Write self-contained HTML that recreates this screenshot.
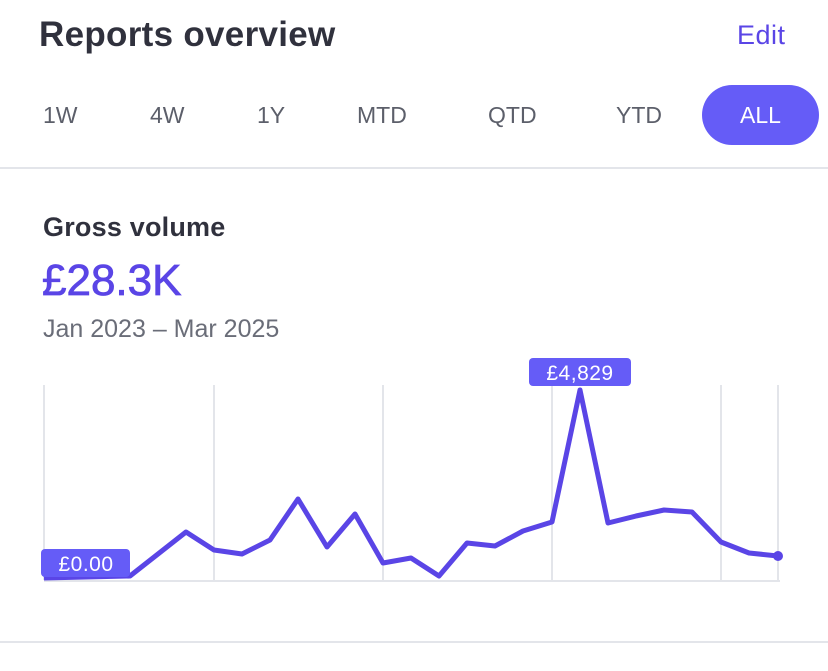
<!DOCTYPE html>
<html><head><style>
body{margin:0;width:828px;height:671px;background:#fff;font-family:"Liberation Sans",sans-serif;position:relative;overflow:hidden}
.a{position:absolute;white-space:nowrap}
</style></head><body>
<div class="a" style="left:39px;top:15px;font-size:35px;font-weight:bold;color:#30313d;letter-spacing:0.3px">Reports overview</div>
<div class="a" style="left:737px;top:20px;font-size:27px;color:#5a45e6;letter-spacing:0.5px">Edit</div>
<div class="a" style="left:702px;top:85px;width:117px;height:60px;border-radius:30px;background:#655cf7"></div>
<div class="a" style="top:102px;font-size:23px;color:#5c5f6a;left:43px">1W</div>
<div class="a" style="top:102px;font-size:23px;color:#5c5f6a;left:150px">4W</div>
<div class="a" style="top:102px;font-size:23px;color:#5c5f6a;left:257px">1Y</div>
<div class="a" style="top:102px;font-size:23px;color:#5c5f6a;left:357px">MTD</div>
<div class="a" style="top:102px;font-size:23px;color:#5c5f6a;left:488px">QTD</div>
<div class="a" style="top:102px;font-size:23px;color:#5c5f6a;left:616px">YTD</div>
<div class="a" style="top:102px;font-size:23px;color:#fff;left:740px">ALL</div>
<div class="a" style="left:0;top:167px;width:828px;height:2px;background:#e3e5ea"></div>
<div class="a" style="left:43px;top:212px;font-size:27px;font-weight:bold;color:#30313d;letter-spacing:0.2px">Gross volume</div>
<div class="a" style="left:42px;top:256px;font-size:44px;color:#5a45e6;-webkit-text-stroke:0.8px #5a45e6">£28.3K</div>
<div class="a" style="left:43px;top:315px;font-size:25px;color:#6a6d78">Jan 2023 – Mar 2025</div>
<svg class="a" style="left:0;top:0" width="828" height="671">
<g stroke="#e3e5ea" stroke-width="2">
<line x1="44" y1="385" x2="44" y2="580"/><line x1="214" y1="385" x2="214" y2="580"/><line x1="383" y1="385" x2="383" y2="580"/><line x1="552" y1="385" x2="552" y2="580"/><line x1="721" y1="385" x2="721" y2="580"/><line x1="778" y1="385" x2="778" y2="580"/>
<line x1="44" y1="581" x2="780" y2="581"/>
</g>
<polyline fill="none" stroke="#5a45e6" stroke-width="5" stroke-linejoin="round" points="44,578 130,576 186,532 214,550 242,554 270,540 298,499 327,547 355,514 383,563 411,558 439,576 467,543 495,546 523,531 552,522 580,390 608,523 636,516 664,510 692,512 721,542 749,553 778,556"/>
<circle cx="778" cy="556" r="5" fill="#5a45e6"/>
<rect x="529" y="358" width="102" height="28" rx="4" fill="#655cf7"/>
<text x="580" y="380" font-size="21" fill="#fff" text-anchor="middle" font-family="Liberation Sans" letter-spacing="0.5">£4,829</text>
<rect x="41" y="549" width="89" height="28" rx="4" fill="#655cf7"/>
<text x="86" y="571" font-size="21" fill="#fff" text-anchor="middle" font-family="Liberation Sans" letter-spacing="0.5">£0.00</text>
<line x1="0" y1="642" x2="828" y2="642" stroke="#e3e5ea" stroke-width="2"/>
</svg>
</body></html>
